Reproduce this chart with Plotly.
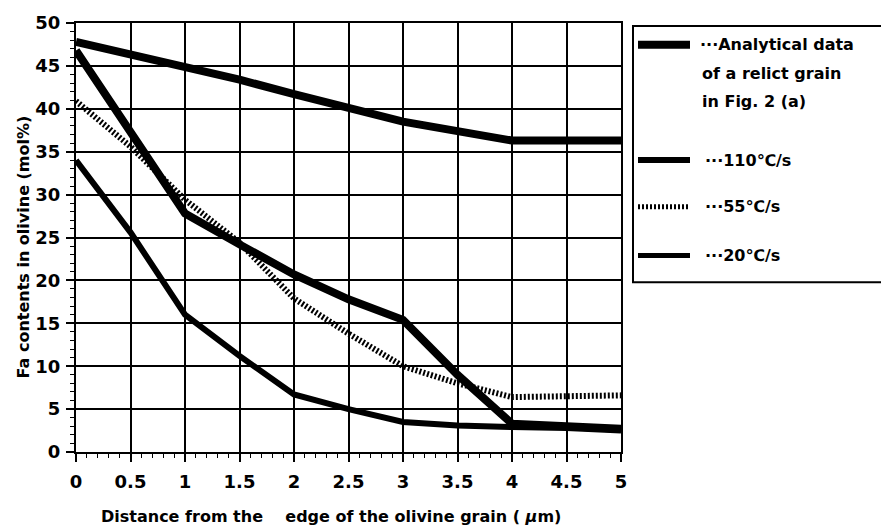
import plotly.graph_objects as go

# Distance from the grain edge (µm)
distance = [0, 0.5, 1, 1.5, 2, 2.5, 3, 3.5, 4, 4.5, 5]

# Fa contents (mol%) along the profile
analytical = [47.8, 46.3, 45.0, 43.4, 41.7, 40.0, 38.5, 37.4, 36.3, 36.3, 36.3]
rate_110 = [46.8, 37.2, 27.8, 24.2, 20.7, 17.8, 15.4, 9.0, 3.3, 3.0, 2.7]
rate_55 = [40.9, 35.6, 29.4, 24.4, 17.9, 13.8, 10.0, 8.0, 6.4, 6.5, 6.6]
rate_20 = [34.0, 25.6, 16.0, 11.2, 6.7, 5.0, 3.5, 3.1, 2.9, 2.8, 2.5]

legend_lines = [
    "···Analytical data",
    "of a relict grain",
    "in Fig. 2 (a)",
    "···110℃/s",
    "···55℃/s",
    "···20℃/s",
]

FONT = "DejaVu Sans"
W, H = 881, 530
L, R, T, B = 76, 621, 20, 452


def px(x):
    return (x - L) / (R - L)


def py(y):
    return (B - y) / (B - T)


fig = go.Figure()
fig.add_trace(go.Scatter(x=distance, y=analytical, mode="lines",
                         line=dict(color="black", width=8)))
fig.add_trace(go.Scatter(x=distance, y=rate_55, mode="lines",
                         line=dict(color="black", width=6, dash="2px,2px")))
fig.add_trace(go.Scatter(x=distance, y=rate_20, mode="lines",
                         line=dict(color="black", width=6)))
fig.add_trace(go.Scatter(x=distance, y=rate_110, mode="lines",
                         line=dict(color="black", width=8)))

axis_common = dict(
    showline=True, linecolor="black", linewidth=2, mirror=True,
    showgrid=True, gridcolor="black", gridwidth=1.5,
    ticks="outside", ticklen=8, tickwidth=1.5, tickcolor="black",
    zeroline=False,
    tickfont=dict(family=FONT, size=18, color="black", weight="bold"),
)

fig.update_xaxes(range=[0, 5], dtick=0.5, tick0=0, ticklabelstandoff=4,
                 minor=dict(dtick=0.1, ticks="outside", ticklen=4,
                            tickcolor="black", tickwidth=1, showgrid=False),
                 **axis_common)
fig.update_yaxes(range=[0, 50], dtick=5, tick0=0, ticklabelstandoff=2,
                 minor=dict(dtick=1, ticks="outside", ticklen=4,
                            tickcolor="black", tickwidth=1, showgrid=False),
                 **axis_common)

shapes = []
annotations = []

# Legend frame (open on the right side)
shapes.append(dict(type="rect", xref="paper", yref="paper",
                   x0=px(633), x1=px(W + 20), y0=py(281), y1=py(23),
                   line=dict(color="black", width=2)))

samples = [
    (42, dict(color="black", width=8)),
    (158, dict(color="black", width=6)),
    (205, dict(color="black", width=5, dash="2px,2px")),
    (254, dict(color="black", width=5)),
]
for y, ln in samples:
    shapes.append(dict(type="line", xref="paper", yref="paper",
                       x0=px(638), x1=px(690), y0=py(y), y1=py(y), line=ln))

label_pos = [(698, 42), (700, 71), (700, 99), (703, 158), (703, 205), (703, 254)]
for (x, y), text in zip(label_pos, legend_lines):
    annotations.append(dict(
        xref="paper", yref="paper", x=px(x), y=py(y),
        xanchor="left", yanchor="middle",
        text=text, showarrow=False, align="left",
        font=dict(family=FONT, size=16, color="black", weight="bold")))

annotations.append(dict(
    xref="paper", yref="paper", x=px(99), y=py(517),
    xanchor="left", yanchor="middle", showarrow=False,
    text="Distance from the\u00a0\u00a0\u00a0\u00a0edge of the olivine grain ( <i>μ</i>m)",
    font=dict(family=FONT, size=16, color="black", weight="bold")))
annotations.append(dict(
    xref="paper", yref="paper", x=px(23), y=py(246),
    xanchor="center", yanchor="middle", showarrow=False, textangle=-90,
    text="Fa contents in olivine (mol%)",
    font=dict(family=FONT, size=16, color="black", weight="bold")))

fig.update_layout(
    width=W, height=H,
    margin=dict(l=L, r=W - R, t=T, b=H - B),
    paper_bgcolor="white", plot_bgcolor="white",
    showlegend=False,
    shapes=shapes, annotations=annotations,
)

fig.write_html("out.html")
